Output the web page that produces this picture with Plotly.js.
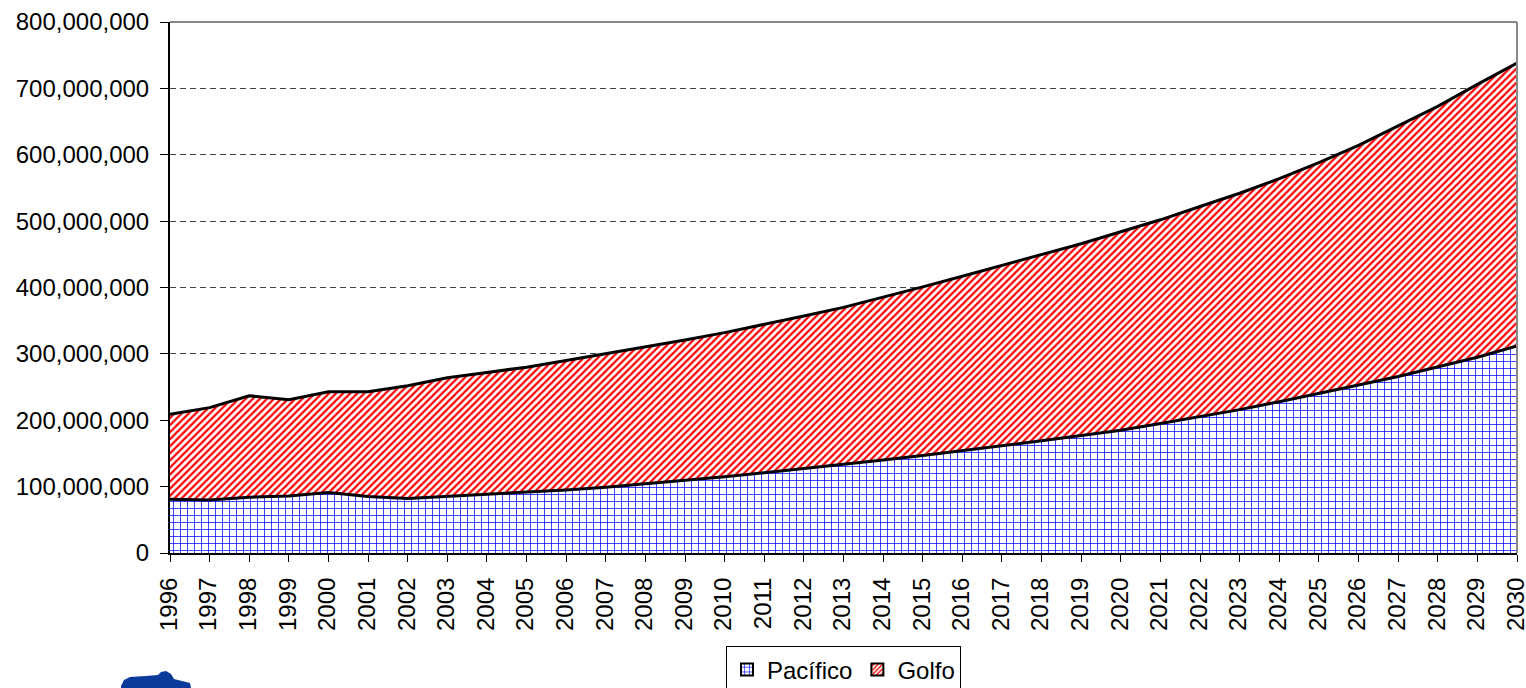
<!DOCTYPE html>
<html>
<head>
<meta charset="utf-8">
<script src="https://cdn.plot.ly/plotly-3.0.1.min.js"></script>
<style>
html,body{margin:0;padding:0;background:#fff;}
#chart{width:1526px;height:688px;}
</style>
</head>
<body>
<div id="chart"></div>
<script>
const years = [1996,1997,1998,1999,2000,2001,2002,2003,2004,2005,2006,2007,2008,2009,2010,2011,2012,2013,2014,2015,2016,2017,2018,2019,2020,2021,2022,2023,2024,2025,2026,2027,2028,2029,2030];
const pacifico = [81,80,84,86,91,85,82,85,88,91.5,95,99,104,109,115,121,127,134,140,147,154,161,169,177,185,195,205,216,228,240,253,266,280,295,312].map(v => v*1e6);
const golfo = [128,139,153,145,152,158,170,179,184,188.5,195,201,207,212,217,223,230,236,245,254,263,272,280,289,299,307,317,326,336,348,361,377,393,411,426].map(v => v*1e6);
const seriesNames = ["Pacífico", "Golfo"];
const yTicks = [0,100000000,200000000,300000000,400000000,500000000,600000000,700000000,800000000];
const yTickText = ["0","100,000,000","200,000,000","300,000,000","400,000,000","500,000,000","600,000,000","700,000,000","800,000,000"];

const FONT = "Liberation Sans, Arial, sans-serif";
const gridPattern = {shape: "+", fgcolor: "#0000ff", bgcolor: "#ffffff", size: 7, solidity: 0.2};
const hatchPattern = {shape: "/", fgcolor: "#ff0000", bgcolor: "#ffffff", size: 5, solidity: 0.45};

const traces = [
  {
    x: years, y: pacifico, name: seriesNames[0], type: "scatter", mode: "lines",
    stackgroup: "one", showlegend: false,
    line: {color: "#000", width: 3},
    fillcolor: "#ffffff", fillpattern: gridPattern, hoverinfo: "skip"
  },
  {
    x: years, y: golfo, name: seriesNames[1], type: "scatter", mode: "lines",
    stackgroup: "one", showlegend: false,
    line: {color: "#000", width: 3},
    fillcolor: "#ffffff", fillpattern: hatchPattern, hoverinfo: "skip"
  },
  // legend-only entries (square patterned swatches like the original)
  {
    x: [null], y: [null], name: seriesNames[0], type: "bar", showlegend: true,
    marker: {color: "#ffffff", line: {color: "#000", width: 2},
             pattern: {shape: "+", fgcolor: "#0000ff", bgcolor: "#ffffff", size: 6, solidity: 0.25}},
    hoverinfo: "skip"
  },
  {
    x: [null], y: [null], name: seriesNames[1], type: "bar", showlegend: true,
    marker: {color: "#ffffff", line: {color: "#000", width: 2},
             pattern: {shape: "/", fgcolor: "#ff0000", bgcolor: "#ffffff", size: 4, solidity: 0.45}},
    hoverinfo: "skip"
  }
];

function px2paperX(p){ return (p - 170) / 1347; }
function px2paperY(p){ return (553 - p) / 531; }
const logoPts = [[121,686],[124,680],[130,677],[146,676],[158,675],[161,672],[166,671],[171,674],[174,679],[190,683],[191,688],[121,688]];
const logoPath = "M " + logoPts.map(p => px2paperX(p[0]).toFixed(5) + "," + px2paperY(p[1]).toFixed(5)).join(" L ") + " Z";

const layout = {
  width: 1526, height: 688,
  margin: {l: 170, r: 9, t: 22, b: 135, autoexpand: false},
  paper_bgcolor: "#fff", plot_bgcolor: "#fff",
  font: {family: FONT, size: 24, color: "#000"},
  showlegend: true,
  barmode: "overlay",
  legend: {
    orientation: "h", x: 0.5, xanchor: "center", y: -0.176, yanchor: "top",
    bordercolor: "#000", borderwidth: 1, bgcolor: "#fff",
    font: {family: FONT, size: 24, color: "#000"},
    itemwidth: 30, traceorder: "normal", itemsizing: "constant"
  },
  xaxis: {
    type: "linear", range: [1996, 2030], tickmode: "array", tickvals: years,
    ticktext: years.map(String), tickangle: -90,
    showgrid: false, zeroline: false, automargin: false,
    showline: true, linecolor: "#000", linewidth: 2,
    ticks: "outside", ticklen: 7, tickcolor: "#000", tickwidth: 1,
    ticklabeloverflow: "allow", ticklabelstandoff: 6, ticklabelshift: -1,
    tickfont: {family: FONT, size: 24, color: "#000"}
  },
  yaxis: {
    range: [0, 800000000], tickmode: "array", tickvals: yTicks, ticktext: yTickText,
    showgrid: true, gridcolor: "#444", gridwidth: 1, griddash: "6px,4px",
    zeroline: false, automargin: false,
    showline: true, linecolor: "#000", linewidth: 2,
    ticks: "outside", ticklen: 8, tickcolor: "#000", tickwidth: 1,
    ticklabelstandoff: 6,
    tickfont: {family: FONT, size: 24, color: "#000"}
  },
  shapes: [
    {type: "line", xref: "paper", yref: "paper", x0: 0, x1: 1, y0: 1, y1: 1, line: {color: "#888", width: 2}},
    {type: "line", xref: "paper", yref: "paper", x0: 1, x1: 1, y0: 0, y1: 1, line: {color: "#888", width: 2}},
    {type: "path", xref: "paper", yref: "paper", path: logoPath, fillcolor: "#0a3a9a", line: {width: 0}, layer: "above"}
  ]
};

Plotly.newPlot("chart", traces, layout, {displayModeBar: false, staticPlot: true});
</script>
</body>
</html>
